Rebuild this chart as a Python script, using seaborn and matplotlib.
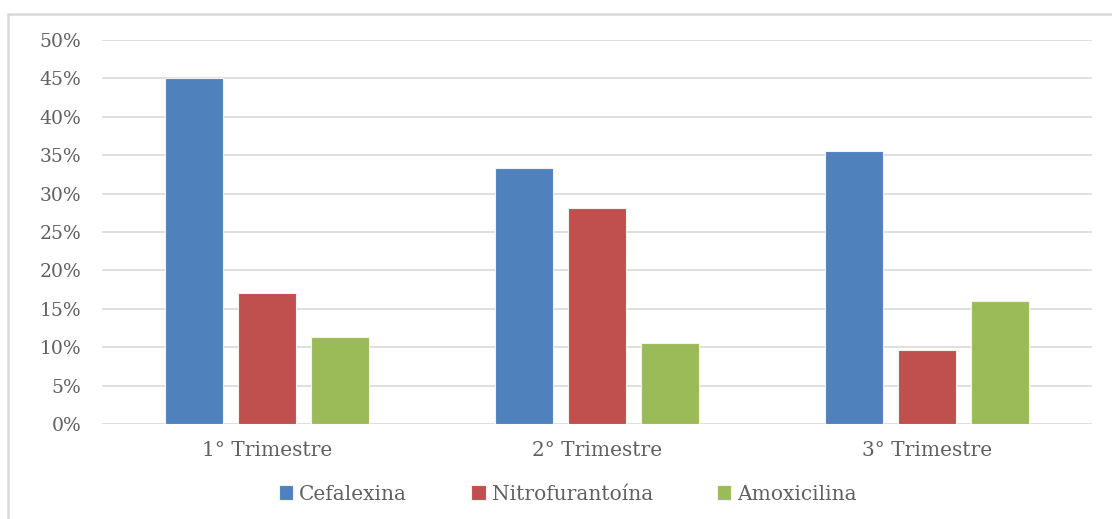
import matplotlib
matplotlib.use("Agg")
import matplotlib.pyplot as plt
import seaborn as sns
import pandas as pd
from matplotlib.patches import Rectangle
from matplotlib.ticker import FuncFormatter

trimestres = ["1° Trimestre", "2° Trimestre", "3° Trimestre"]
cefalexina = [45.0, 33.3, 35.5]
nitrofurantoina = [17.0, 28.1, 9.6]
amoxicilina = [11.3, 10.5, 16.0]
farmacos = ["Cefalexina", "Nitrofurantoína", "Amoxicilina"]
y_ticks = list(range(0, 51, 5))

df = pd.DataFrame({
    "Trimestre": trimestres * 3,
    "Fármaco": [f for f in farmacos for _ in trimestres],
    "Porcentaje": cefalexina + nitrofurantoina + amoxicilina,
})

sns.set_style("white")
plt.rcParams["font.family"] = ["DejaVu Serif", "Liberation Serif"]
text_color = "#606060"
grid_color = "#D9D9D9"
palette = ["#4F81BD", "#C0504D", "#9BBB59"]

fig = plt.figure(figsize=(11.12, 5.19), dpi=100)
ax = fig.add_axes([102 / 1112, 1 - 424 / 519, 990 / 1112, 384 / 519])

sns.barplot(data=df, x="Trimestre", y="Porcentaje", hue="Fármaco",
            palette=palette, saturation=1, width=0.664, gap=0.2, ax=ax,
            edgecolor="#F2F2F2", linewidth=0.8, errorbar=None, legend=True,
            zorder=3)

ax.set_ylim(0, 50)
ax.set_xlim(-0.5, 2.5)
ax.set_yticks(y_ticks)
ax.yaxis.set_major_formatter(FuncFormatter(lambda v, _: f"{int(v)}%"))
ax.grid(axis="y", color=grid_color, linewidth=1.2, zorder=0)
ax.set_axisbelow(True)
for s in ax.spines.values():
    s.set_visible(False)
ax.tick_params(axis="y", length=0, pad=15, labelsize=13.5, labelcolor=text_color)
ax.tick_params(axis="x", length=0, pad=12, labelsize=14.5, labelcolor=text_color)
ax.set_xlabel("")
ax.set_ylabel("")

leg = ax.legend(loc="center", bbox_to_anchor=(568 / 1112, 1 - 494 / 519),
                bbox_transform=fig.transFigure, ncol=3, frameon=False,
                fontsize=14.5, handlelength=0.7, handleheight=0.7,
                handletextpad=0.3, columnspacing=3.2)
for t in leg.get_texts():
    t.set_color(text_color)

# outer chart frame
fig.patches.append(Rectangle((8 / 1112, -0.1), 1.2, 1.1 - 14 / 519,
                             transform=fig.transFigure, fill=False,
                             edgecolor=grid_color, linewidth=1.8))

fig.savefig("out.png", dpi=100, facecolor="white")
